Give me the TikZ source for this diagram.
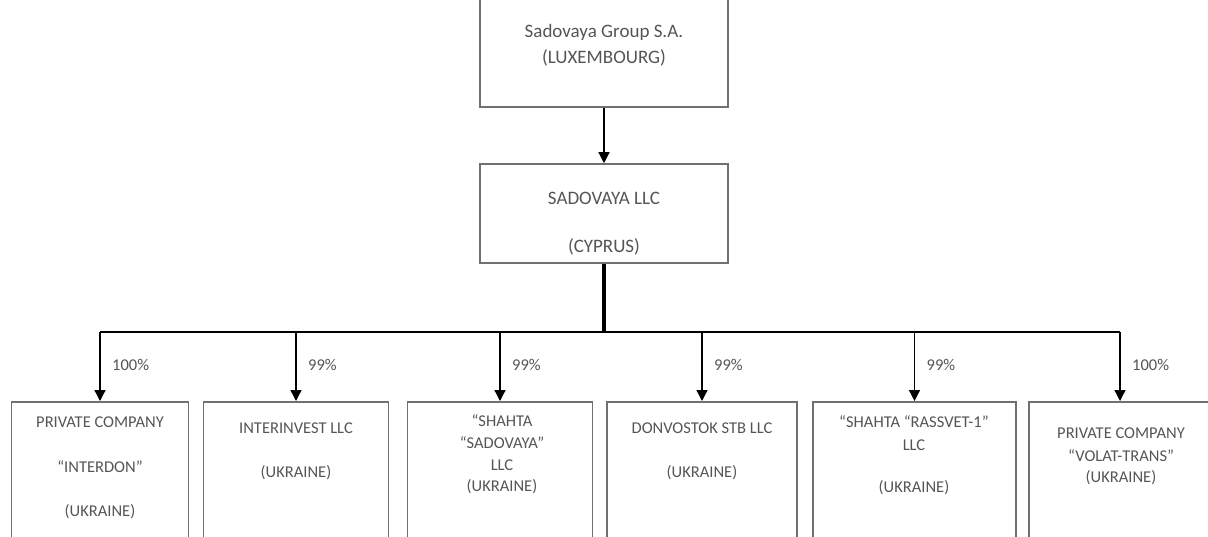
\documentclass[tikz,border=0pt]{standalone}
\usepackage{fontspec}
\setmainfont{Carlito}
\usetikzlibrary{arrows.meta}
\definecolor{txt}{HTML}{555555}
\definecolor{frame}{HTML}{707070}
\tikzset{
  box/.style={draw=frame, line width=1.6pt, minimum width=#1, minimum height=160pt, inner sep=0pt, anchor=north},
  lbl/.style={text=txt, font=\fontsize{16.5}{18}\selectfont, inner sep=0pt, align=center},
  biglbl/.style={text=txt, font=\fontsize{19}{21}\selectfont, inner sep=0pt, align=center},
  pct/.style={text=txt, font=\fontsize{16.5}{18}\selectfont, inner sep=0pt, anchor=west},
  arr/.style={draw=black, line width=1.3pt, -{Triangle[width=11pt,length=11pt]}},
  conn/.style={draw=black, line width=1.3pt},
}
\begin{document}
\begin{tikzpicture}[x=1pt,y=-1pt]
\useasboundingbox (0,0) rectangle (1208,536);
\clip (0,0) rectangle (1208,536);
% top
\node[draw=frame, line width=1.6pt, minimum width=248pt, minimum height=120pt, inner sep=0pt] (top) at (604,47) {};
\node[biglbl] (topA) at (604,32) {Sadovaya Group S.A.};
\node[biglbl] (topB) at (604,58) {(LUXEMBOURG)};
% middle
\node[draw=frame, line width=1.6pt, minimum width=248pt, minimum height=99pt, inner sep=0pt] (mid) at (604,213.5) {};
\node[biglbl] (midA) at (604,198) {SADOVAYA LLC};
\node[biglbl] (midB) at (604,247) {(CYPRUS)};
\draw[arr] (top.south) -- (mid.north);
% bus
\coordinate (bus) at (604,332);
\draw[line width=3.2pt] (mid.south) -- (bus);
% bottom boxes
\node[box=177pt] (b1) at (100,401) {};
\node[box=185pt] (b2) at (296,401) {};
\node[box=185pt] (b3) at (500,401) {};
\node[box=190pt] (b4) at (702,401) {};
\node[box=203pt] (b5) at (914.5,401) {};
\node[box=182pt] (b6) at (1120,401) {};
\draw[conn] (b1.north |- bus) -- (b6.north |- bus);
\foreach \b/\p in {b1/100\%,b2/99\%,b3/99\%,b4/99\%,b5/99\%,b6/100\%}{
  \draw[arr] (\b.north |- bus) -- (\b.north);
  \node[pct] (\b-p) at ([xshift=12pt]\b.north |- 0,365) {\p};
}
% texts
\node[lbl] (t1a) at (100,422) {PRIVATE COMPANY};
\node[lbl] (t1b) at (100,467) {“INTERDON”};
\node[lbl] (t1c) at (100,512) {(UKRAINE)};
\node[lbl] (t2a) at (296,428) {INTERINVEST LLC};
\node[lbl] (t2b) at (296,473) {(UKRAINE)};
\node[lbl] (t3a) at (502,421) {“SHAHTA};
\node[lbl] (t3b) at (502,443) {“SADOVAYA”};
\node[lbl] (t3c) at (502,465) {LLC};
\node[lbl] (t3d) at (502,487) {(UKRAINE)};
\node[lbl] (t4a) at (702,428) {DONVOSTOK STB LLC};
\node[lbl] (t4b) at (702,473) {(UKRAINE)};
\node[lbl] (t5a) at (914,422) {“SHAHTA “RASSVET-1”};
\node[lbl] (t5b) at (914,445) {LLC};
\node[lbl] (t5c) at (914,488) {(UKRAINE)};
\node[lbl] (t6a) at (1121,433) {PRIVATE COMPANY};
\node[lbl] (t6b) at (1121,456) {“VOLAT-TRANS”};
\node[lbl] (t6c) at (1121,478) {(UKRAINE)};
\end{tikzpicture}
\end{document}
